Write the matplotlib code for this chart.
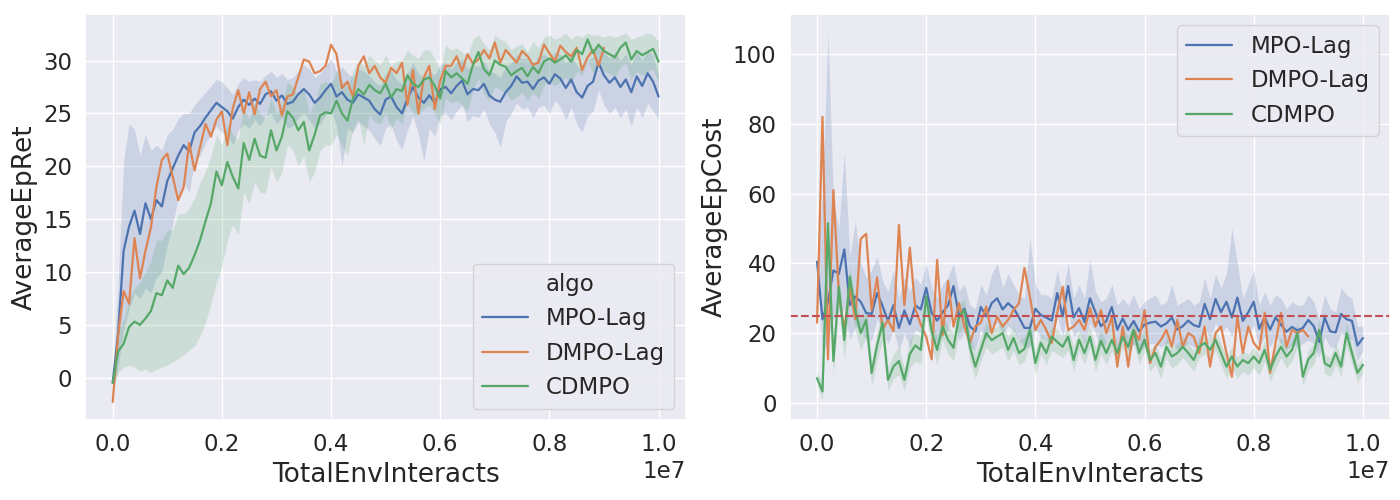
import numpy as np
import matplotlib
matplotlib.use("Agg")
import matplotlib.pyplot as plt
import seaborn as sns

# x grid: evaluation points every 1e5 interactions
steps = np.arange(101) * 1e5
steps_dmpo = steps[:91]

# ---- AverageEpRet ----
ret_mpo = [-0.5, 4.2, 12.0, 14.3, 15.8, 13.6, 16.5, 15.0, 16.8, 16.2,
           18.6, 19.8, 21.0, 22.0, 21.4, 23.2, 23.8, 24.6, 25.3, 26.0,
           25.6, 25.2, 24.5, 25.6, 26.3, 25.8, 26.4, 25.9, 26.8, 27.1,
           26.2, 26.7, 25.9, 26.1, 26.8, 27.3, 26.8, 26.0, 26.5, 27.2,
           27.8, 26.6, 27.0, 26.3, 26.0, 26.8, 26.5, 26.2, 25.4, 24.9,
           26.3, 26.6, 25.6, 25.0, 26.4, 27.5, 26.5, 26.0, 26.7, 26.0,
           27.3, 27.5, 26.9, 27.6, 28.1, 26.8, 27.3, 27.2, 27.8, 26.7,
           26.3, 26.1, 27.0, 27.6, 28.5, 27.9, 28.0, 27.3, 28.1, 28.4,
           27.8, 28.7, 28.3, 27.4, 28.2, 27.0, 26.5, 27.6, 28.0, 29.8,
           28.6, 27.9, 28.4, 27.5, 28.2, 27.0, 28.5, 27.6, 28.8, 28.0, 26.6]
ret_mpo_lo = [-1.5, 1.0, 4.5, 6.5, 8.0, 7.5, 8.5, 8.0, 9.5, 10.0,
              12.5, 14.5, 17.0, 18.5, 17.5, 20.5, 21.0, 22.2, 23.0, 23.8,
              23.2, 23.0, 22.0, 23.4, 24.0, 23.6, 24.4, 23.8, 24.8, 25.0,
              24.0, 24.6, 23.6, 23.8, 24.6, 25.0, 24.4, 23.6, 24.0, 24.8,
              25.4, 23.8, 20.0, 23.6, 23.2, 24.2, 23.8, 23.4, 22.6, 22.0,
              23.6, 24.0, 22.4, 21.6, 23.4, 24.8, 23.0, 20.5, 23.6, 22.8,
              24.8, 25.0, 24.4, 25.2, 25.8, 24.2, 24.8, 24.6, 25.4, 24.0,
              23.2, 21.8, 24.2, 25.0, 26.0, 25.4, 25.6, 24.6, 25.6, 25.8,
              25.0, 26.2, 25.6, 24.4, 25.6, 24.0, 23.2, 24.8, 25.2, 27.2,
              25.8, 25.0, 25.6, 24.6, 25.4, 23.8, 25.6, 24.6, 26.0, 25.2, 24.5]
ret_mpo_hi = [0.5, 9.0, 20.5, 24.0, 23.5, 21.0, 23.0, 21.5, 22.0, 21.5,
              23.0, 23.5, 24.5, 25.0, 25.0, 25.8, 26.4, 27.0, 27.6, 28.2,
              28.0, 27.4, 26.8, 27.8, 28.4, 28.0, 28.2, 28.0, 28.6, 29.0,
              28.4, 28.8, 28.2, 28.4, 29.0, 29.6, 29.2, 28.4, 28.8, 29.4,
              30.2, 29.0, 29.4, 28.8, 28.4, 29.2, 29.0, 28.6, 28.0, 27.6,
              28.8, 29.0, 28.2, 27.8, 28.8, 29.8, 28.8, 28.4, 29.0, 28.6,
              29.6, 29.8, 29.2, 29.8, 30.2, 29.2, 29.6, 29.4, 30.0, 29.0,
              28.8, 28.4, 29.4, 29.8, 30.6, 30.2, 30.2, 29.8, 30.4, 30.6,
              30.2, 30.8, 30.6, 29.8, 30.4, 29.6, 29.0, 30.0, 30.4, 31.6,
              30.8, 30.2, 30.8, 30.0, 30.6, 29.6, 30.8, 30.0, 31.0, 30.4, 28.6]

ret_dmpo = [-2.3, 4.0, 8.2, 7.0, 13.2, 9.4, 12.0, 14.2, 18.0, 20.6,
            21.2, 19.0, 16.8, 18.0, 22.2, 19.6, 21.8, 24.0, 22.8, 24.4,
            25.2, 22.0, 25.5, 27.2, 25.0, 27.0, 24.9, 27.3, 28.0, 26.6,
            27.2, 24.8, 26.6, 26.8, 28.4, 30.1, 29.9, 28.8, 29.0, 29.5,
            31.5, 30.6, 27.4, 28.0, 26.6, 29.5, 30.4, 28.8, 29.5, 28.4,
            27.9, 29.3, 28.8, 29.8, 25.8, 29.1, 25.0, 28.4, 29.5, 25.4,
            28.1, 29.5, 29.5, 30.4, 29.0, 30.6, 29.7, 30.1, 31.0, 30.2,
            31.7, 29.8, 31.0, 30.4, 29.8, 30.9, 30.4, 29.6, 29.8, 31.5,
            30.7, 29.9, 31.4, 30.8, 30.4, 31.2, 29.1, 30.3, 31.0, 29.5, 31.2]

ret_cdmpo = [-0.5, 2.5, 3.2, 4.8, 5.3, 5.0, 5.6, 6.3, 8.0, 7.8,
             9.2, 8.5, 10.6, 9.8, 10.4, 11.6, 13.0, 14.8, 16.5, 19.5,
             18.2, 20.4, 19.0, 17.9, 22.2, 20.6, 22.6, 21.0, 20.8, 23.4,
             21.5, 22.8, 25.2, 24.6, 23.4, 24.2, 21.5, 23.0, 24.8, 25.1,
             25.0, 26.2, 25.0, 24.3, 26.4, 27.3, 26.8, 27.7, 27.2, 26.9,
             27.8, 26.5, 27.3, 27.1, 28.6, 27.8, 27.5, 28.2, 28.4, 27.6,
             26.4, 29.0, 28.4, 28.8, 28.3, 27.8, 29.6, 30.8, 29.2, 28.6,
             30.0, 29.6, 29.4, 28.6, 29.0, 29.3, 28.5, 29.4, 28.8, 29.9,
             30.2, 29.8, 30.1, 30.5, 29.9, 31.0, 30.6, 32.0, 30.7, 31.5,
             30.9, 30.6, 30.3, 31.2, 31.7, 30.1, 30.9, 30.5, 30.8, 31.1, 29.9]
ret_cdmpo_lo = [-1.0, 0.5, 1.0, 1.2, 1.0, 0.6, 0.8, 0.5, 0.8, 1.0,
                1.2, 1.5, 1.8, 2.2, 2.6, 3.0, 4.0, 5.2, 7.0, 9.0,
                10.5, 13.0, 14.5, 13.5, 17.5, 16.5, 18.5, 17.5, 17.5, 20.0,
                18.5, 19.5, 22.0, 21.5, 20.0, 21.0, 18.5, 19.5, 21.5, 22.0,
                22.0, 23.0, 22.0, 21.0, 23.5, 24.5, 22.0, 24.8, 24.2, 24.0,
                25.0, 23.5, 24.5, 24.0, 26.0, 25.0, 24.8, 25.5, 25.8, 25.0,
                24.0, 26.5, 26.0, 26.2, 25.8, 25.2, 27.2, 28.4, 26.8, 26.2,
                27.6, 27.2, 27.0, 26.2, 26.6, 27.0, 26.2, 27.0, 26.4, 27.6,
                28.0, 27.6, 28.0, 28.4, 27.8, 29.0, 28.6, 30.0, 28.8, 29.6,
                29.0, 28.8, 28.4, 29.4, 29.8, 28.2, 29.0, 28.6, 29.0, 29.2, 28.0]
ret_cdmpo_hi = [0.0, 4.5, 5.5, 7.5, 8.5, 9.0, 10.0, 11.0, 13.0, 13.0,
                14.0, 14.0, 15.5, 15.5, 16.0, 17.0, 18.5, 19.5, 21.0, 23.0,
                22.0, 24.0, 23.0, 22.5, 25.5, 24.5, 26.0, 25.0, 24.5, 26.5,
                25.0, 26.0, 28.0, 27.5, 26.5, 27.5, 25.0, 26.0, 27.8, 28.0,
                27.8, 29.0, 28.0, 27.5, 29.0, 30.0, 29.5, 30.5, 30.0, 29.6,
                30.5, 29.5, 30.0, 30.0, 31.0, 30.5, 30.2, 31.0, 31.0, 30.2,
                29.0, 31.5, 31.0, 31.2, 30.8, 30.4, 32.0, 32.4, 31.6, 31.0,
                32.4, 32.0, 31.8, 31.0, 31.4, 31.6, 30.8, 31.8, 31.2, 32.2,
                32.4, 32.0, 32.2, 32.6, 32.0, 32.4, 32.2, 32.6, 32.4, 32.4,
                32.2, 32.4, 32.2, 32.4, 32.6, 32.0, 32.2, 32.4, 32.6, 32.4, 31.8]

# ---- AverageEpCost ----
cost_mpo = [40.5, 24.0, 29.0, 38.0, 37.0, 44.0, 28.0, 30.5, 29.0, 25.8,
            25.5, 31.5, 27.8, 23.5, 28.0, 21.5, 26.5, 22.5, 28.0, 26.8,
            33.0, 25.8, 23.6, 26.0, 28.0, 33.5, 25.0, 27.0, 22.0, 20.5,
            27.5, 24.8, 28.6, 30.0, 26.8, 28.6, 27.2, 24.5, 21.5, 21.5,
            27.0, 25.2, 24.5, 23.6, 31.5, 24.8, 33.5, 24.5, 27.2, 23.2,
            30.0, 26.0, 22.0, 23.5, 27.5, 21.0, 24.2, 21.0, 23.5, 20.5,
            22.5, 23.0, 23.3, 21.9, 22.8, 24.5, 21.0, 22.0, 23.6, 22.3,
            21.8, 28.4, 24.0, 29.8, 26.0, 29.0, 24.5, 30.2, 23.5, 26.0,
            29.0, 21.2, 24.6, 21.0, 24.5, 22.4, 20.4, 21.8, 20.8, 21.5,
            23.8, 22.0, 17.5, 24.5, 20.5, 20.2, 25.5, 24.0, 23.5, 16.5, 18.6]
cost_mpo_lo = [39, 14, 18, 24, 26, 27, 18, 22, 21, 18,
               18, 24, 21, 17, 21, 15, 20, 16, 21, 20,
               26, 19, 17, 19, 21, 26, 18, 20, 16, 15,
               21, 18, 22, 23, 20, 22, 21, 18, 16, 16,
               21, 19, 18, 17, 25, 19, 26, 19, 21, 17,
               23, 20, 16, 17, 21, 15, 18, 15, 17, 15,
               16, 17, 17, 16, 17, 18, 15, 16, 17, 16,
               16, 22, 18, 23, 20, 22, 19, 23, 18, 20,
               22, 16, 19, 16, 19, 17, 15, 17, 16, 17,
               18, 17, 13, 19, 16, 16, 20, 19, 18, 12, 15]
cost_mpo_hi = [41, 60, 106, 58, 50, 72, 42, 52, 40, 36,
               38, 42, 35, 32, 38, 30, 36, 32, 36, 34,
               40, 33, 30, 34, 36, 40, 32, 34, 28, 27,
               34, 31, 37, 40, 33, 37, 34, 31, 30, 47,
               34, 31, 31, 30, 38, 31, 40, 30, 34, 30,
               41, 32, 29, 30, 34, 28, 30, 28, 31, 27,
               29, 30, 31, 28, 29, 34, 28, 29, 30, 28,
               29, 36, 30, 37, 33, 37, 50, 40, 30, 34,
               38, 28, 32, 28, 31, 30, 27, 29, 28, 28,
               31, 29, 24, 31, 27, 26, 33, 31, 30, 22, 22]

cost_dmpo = [23.0, 82.0, 12.5, 61.0, 31.0, 21.0, 33.0, 24.0, 47.0, 48.5,
             26.6, 36.0, 21.0, 23.8, 20.5, 51.0, 28.0, 44.5, 27.0, 22.5,
             19.0, 12.5, 41.0, 19.5, 35.0, 21.9, 28.6, 22.0, 17.2, 21.9,
             23.0, 27.6, 20.0, 24.7, 21.9, 23.8, 26.6, 28.6, 38.7, 30.5,
             20.9, 23.8, 20.9, 17.2, 25.8, 33.3, 20.9, 21.9, 23.8, 20.9,
             27.2, 21.9, 26.6, 20.0, 24.7, 10.4, 21.9, 10.4, 20.9, 18.1,
             26.6, 11.4, 16.1, 18.1, 20.9, 16.1, 23.8, 16.1, 20.0, 19.0,
             14.3, 21.9, 10.4, 20.0, 21.9, 14.3, 7.5, 24.7, 14.3, 21.9,
             17.2, 15.2, 25.8, 8.6, 17.2, 25.8, 16.1, 20.9, 20.0, 20.9, 19.0]

cost_cdmpo = [7.1, 3.3, 51.5, 12.0, 33.3, 18.0, 36.2, 26.5, 20.0, 23.8,
              8.6, 16.5, 22.9, 6.6, 10.4, 12.0, 6.6, 14.0, 16.5, 15.2,
              30.5, 20.5, 15.2, 21.9, 18.1, 15.8, 24.7, 26.6, 16.1, 10.4,
              15.2, 20.0, 18.0, 19.0, 20.0, 15.2, 18.6, 14.3, 15.5, 20.9,
              11.4, 17.2, 14.3, 19.0, 17.5, 16.1, 19.0, 12.3, 18.1, 14.3,
              19.0, 12.3, 17.8, 14.3, 18.1, 14.3, 19.0, 16.1, 20.9, 14.3,
              18.1, 12.3, 14.3, 10.4, 16.1, 13.3, 14.3, 16.1, 14.3, 12.3,
              16.1, 17.2, 15.2, 18.1, 14.3, 10.4, 13.3, 10.4, 12.3, 11.4,
              13.3, 11.4, 15.2, 9.5, 13.3, 16.1, 13.3, 15.2, 20.0, 7.5,
              12.5, 14.3, 20.9, 11.4, 10.4, 14.3, 10.4, 20.0, 14.3, 8.6, 10.9]
cost_cdmpo_lo = [5, 1, 40, 8, 28, 12, 30, 21, 15, 19,
                 5, 12, 18, 3.5, 7, 8, 3.5, 10, 12, 11,
                 25, 16, 11, 18, 14, 12, 20, 22, 12, 7,
                 12, 16, 14, 15, 16, 12, 15, 11, 12, 17,
                 8, 14, 11, 15, 14, 13, 15, 9, 15, 11,
                 16, 9, 14, 11, 15, 11, 16, 13, 17, 11,
                 15, 9, 11, 7, 13, 10, 11, 13, 11, 9,
                 13, 14, 12, 15, 11, 7, 10, 7, 9, 8,
                 10, 8, 12, 6, 10, 13, 10, 12, 16, 5,
                 9.5, 11, 17, 8.5, 7.5, 11, 7.5, 16, 11, 6, 8.5]
cost_cdmpo_hi = [9, 6, 53, 16, 36, 22, 39, 30, 24, 27,
                 12, 20, 27, 10, 14, 16, 10, 18, 20, 19,
                 33, 24, 19, 25, 22, 20, 28, 30, 20, 14,
                 19, 23, 21, 22, 23, 19, 22, 18, 19, 24,
                 15, 20, 18, 22, 21, 19, 22, 16, 21, 18,
                 22, 16, 21, 17, 21, 17, 22, 19, 24, 17,
                 21, 15, 17, 13, 19, 16, 17, 19, 17, 15,
                 19, 20, 18, 21, 17, 13, 16, 13, 15, 14,
                 16, 14, 18, 12, 16, 19, 16, 18, 23, 10,
                 15, 17, 24, 14, 13, 17, 13, 23, 17, 11, 13]

cost_limit = 25

sns.set_theme(style="darkgrid", font_scale=1.5)
plt.rcParams["axes.labelsize"] = 19
colors = sns.color_palette("deep")

fig, (ax1, ax2) = plt.subplots(1, 2, figsize=(14, 5), dpi=100)
fig.subplots_adjust(left=0.061, right=0.993, top=0.972, bottom=0.16, wspace=0.173)

# left: returns
ax1.plot([], [], color="none", label="algo")
ax1.fill_between(steps, ret_mpo_lo, ret_mpo_hi, color=colors[0], alpha=0.2, linewidth=0)
ax1.fill_between(steps, ret_cdmpo_lo, ret_cdmpo_hi, color=colors[2], alpha=0.2, linewidth=0)
ax1.plot(steps, ret_mpo, color=colors[0], lw=1.6, label="MPO-Lag")
ax1.plot(steps_dmpo, ret_dmpo, color=colors[1], lw=1.6, label="DMPO-Lag")
ax1.plot(steps, ret_cdmpo, color=colors[2], lw=1.6, label="CDMPO")
ax1.set_xlabel("TotalEnvInteracts")
ax1.set_ylabel("AverageEpRet")
ax1.set_ylim(-4.0, 34.4)
ax1.legend(loc="lower right")

# right: costs
ax2.fill_between(steps, cost_mpo_lo, cost_mpo_hi, color=colors[0], alpha=0.2, linewidth=0)
ax2.fill_between(steps, cost_cdmpo_lo, cost_cdmpo_hi, color=colors[2], alpha=0.2, linewidth=0)
ax2.plot(steps, cost_mpo, color=colors[0], lw=1.6, label="MPO-Lag")
ax2.plot(steps_dmpo, cost_dmpo, color=colors[1], lw=1.6, label="DMPO-Lag")
ax2.plot(steps, cost_cdmpo, color=colors[2], lw=1.6, label="CDMPO")
ax2.axhline(cost_limit, color=colors[3], linestyle="--", lw=1.5)
ax2.set_xlabel("TotalEnvInteracts")
ax2.set_ylabel("AverageEpCost")
ax2.set_ylim(-4.9, 111.5)
ax2.legend(loc="upper right")

plt.savefig("out.png")
